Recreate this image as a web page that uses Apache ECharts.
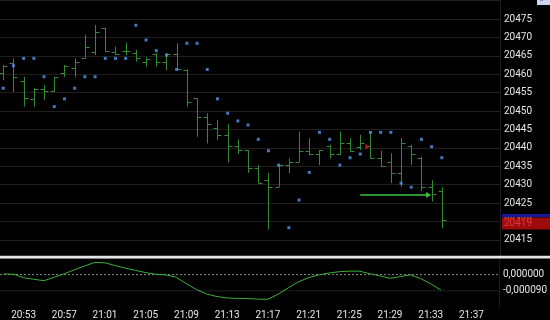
<!DOCTYPE html>
<html><head><meta charset="utf-8">
<script src="https://cdn.jsdelivr.net/npm/echarts@6/dist/echarts.min.js"></script>
<style>html,body{margin:0;padding:0;background:#000;}#c{width:550px;height:320px;}</style>
</head><body><div id="c"></div>
<script>
// ---- data ----
const times = ['20:51','20:52','20:53','20:54','20:55','20:56','20:57','20:58','20:59','21:00',
  '21:01','21:02','21:03','21:04','21:05','21:06','21:07','21:08','21:09','21:10',
  '21:11','21:12','21:13','21:14','21:15','21:16','21:17','21:18','21:19','21:20',
  '21:21','21:22','21:23','21:24','21:25','21:26','21:27','21:28','21:29','21:30',
  '21:31','21:32','21:33','21:34'];
const openP = [20460.2,20463.0,20458.2,20453.2,20456.0,20455.4,20460.2,20461.6,20464.3,20466.1,
  20472.5,20466.1,20466.3,20465.7,20463.4,20465.5,20463.4,20465.4,20461.1,20453.4,
  20448.3,20445.5,20443.5,20440.5,20439.4,20434.4,20431.2,20429.4,20435.3,20436.2,
  20439.2,20438.3,20440.5,20438.2,20441.4,20440.3,20440.5,20437.1,20436.1,20433.2,
  20440.5,20437.3,20429.3,20428.3];
const highP = [20462.5,20464.3,20459.3,20456.2,20457.1,20459.3,20462.5,20464.3,20470.7,20473.4,
  20472.6,20467.5,20468.6,20466.6,20464.6,20465.7,20465.7,20468.4,20461.3,20453.4,
  20449.4,20447.6,20446.4,20442.3,20439.4,20435.3,20433.2,20435.3,20437.1,20444.4,
  20442.6,20439.4,20440.8,20444.4,20442.6,20443.5,20443.9,20439.2,20438.5,20442.6,
  20440.8,20437.6,20431.2,20429.4];
const lowP = [20458.4,20455.2,20451.2,20451.2,20453.0,20455.2,20459.2,20459.2,20464.3,20465.2,
  20466.0,20465.2,20465.2,20463.4,20462.0,20462.0,20461.1,20461.1,20451.2,20443.0,
  20441.2,20442.1,20436.0,20438.3,20433.2,20430.4,20417.8,20429.4,20433.1,20436.2,
  20438.0,20435.3,20437.1,20438.0,20438.9,20439.4,20437.1,20434.9,20430.4,20429.4,
  20435.3,20428.3,20425.4,20418.1];
const closeP = [20462.3,20459.3,20453.4,20456.0,20455.4,20459.2,20462.3,20463.2,20467.5,20471.4,
  20466.3,20465.4,20466.3,20464.3,20464.0,20463.4,20465.5,20461.3,20452.5,20448.3,
  20446.4,20443.5,20440.5,20439.4,20434.4,20430.4,20429.4,20435.3,20436.2,20439.2,
  20438.2,20439.4,20438.2,20441.4,20439.2,20441.4,20437.1,20435.1,20433.2,20441.4,
  20438.2,20429.3,20427.4,20420.4];
const sarP = [20456.2,20462.3,20464.3,20464.3,20459.3,20451.2,20453.3,20456.2,20459.3,20459.3,
  20464.3,20464.3,20464.3,20473.3,20469.3,20466.4,20465.2,20461.3,20468.4,20468.4,
  20461.3,20453.3,20449.4,20447.3,20446.2,20442.3,20439.2,20435.3,20418.3,20425.8,
  20433.3,20444.2,20442.3,20435.3,20437.3,20438.3,20444.2,20444.2,20444.2,20430.4,
  20429.3,20442.3,20440.3,20437.3];
const oscV = [0.0000036,0.0000026,-0.0000172,-0.000026,-0.0000338,-0.0000146,0.0000047,0.000027,0.000048,0.0000676,
  0.0000655,0.00005,0.0000359,0.0000234,0.0000109,0.000002,-0.0000016,-0.0000146,-0.000051,-0.0000837,
  -0.000108,-0.000122,-0.00013,-0.000132,-0.000133,-0.000136,-0.000137,-0.000109,-0.000074,-0.00004,
  -0.0000172,-0.0000016,0.0000088,0.000016,0.0000192,0.000019,0.0000052,-0.0000068,-0.000021,-0.000011,
  -0.0000016,-0.000022,-0.000051,-0.000086];
const xTickLabels = ['20:53','20:57','21:01','21:05','21:09','21:13','21:17','21:21','21:25','21:29','21:33','21:37'];
const priceLabels = [20415,20420,20425,20430,20435,20440,20445,20450,20455,20460,20465,20470,20475];
const oscLabels = [[0,'0,000000'],[-0.00009,'-0,000090']];
const oscZeroLevel = 0, oscGridLevel = -0.00009;
const bidPrice = 20419.4, bidLabel = '20419';
const askPrice = 20421.6;
const tradeArrow = {from:'21:26', price: 20427.2};
const tradeArrowEnd = 39.7; // minutes after 20:53
const entryMark = [33.7, 20440.3];

// ---- helpers ----
const toMin = s => { const p = s.split(':'); return (+p[0])*60 + (+p[1]); };
const base = toMin(xTickLabels[0]);
const kOf = s => toMin(s) - base;
const xMin = -2.32, xMax = 46.7;
const labelMap = {};
xTickLabels.forEach(s => labelMap[kOf(s)] = s);

const ohlc = times.map((t,i) => [kOf(t), openP[i], highP[i], lowP[i], closeP[i]]);
const sar = times.map((t,i) => [kOf(t), sarP[i]]);
const osc = times.map((t,i) => [kOf(t), oscV[i]]);

const GREEN = '#348a34';
const FONT = 'Roboto, sans-serif';

const chart = echarts.init(document.getElementById('c'), null, {renderer:'canvas'});
chart.setOption({
  backgroundColor: '#000',
  animation: false,
  grid: [
    {left: 0, top: 0.6, width: 500, height: 257.6},
    {left: 0, top: 258.4, width: 500, height: 51.9}
  ],
  xAxis: [
    {type:'value', gridIndex:0, min:xMin, max:xMax, show:false},
    {type:'value', gridIndex:1, min:xMin, max:xMax,
      axisLine:{show:false}, axisTick:{show:false}, splitLine:{show:false},
      axisLabel:{color:'#e6e6e6', fontSize:10, fontFamily:FONT, margin:3,
        customValues: xTickLabels.map(kOf),
        formatter: v => labelMap[Math.round(v)] || ''}}
  ],
  yAxis: [
    {type:'value', gridIndex:0, position:'right', min:20410, max:20480, interval:5,
      axisLine:{show:true, onZero:false, lineStyle:{color:'#1c1c1c'}}, axisTick:{show:false},
      splitLine:{show:true, lineStyle:{color:'#1f1f1f', width:1}},
      axisLabel:{color:'#e6e6e6', fontSize:10, fontFamily:FONT, margin:4,
        formatter: v => priceLabels.indexOf(Math.round(v)) >= 0 ? String(Math.round(v)) : ''}},
    {type:'value', gridIndex:1, position:'right', min:-0.00018, max:0.00009, interval:0.00009,
      axisLine:{show:true, onZero:false, lineStyle:{color:'#1c1c1c'}}, axisTick:{show:false},
      splitLine:{show:false},
      axisLabel:{color:'#e6e6e6', fontSize:10, fontFamily:FONT, margin:4,
        formatter: v => { for (const [val, txt] of oscLabels) { if (Math.abs(v - val) < 1e-10) return txt; } return ''; }}}
  ],
  series: [
    {
      type:'custom', xAxisIndex:0, yAxisIndex:0, data: ohlc,
      encode:{x:0, y:[1,2,3,4]},
      renderItem: (params, api) => {
        const x = api.value(0);
        const o = api.coord([x, api.value(1)]);
        const h = api.coord([x, api.value(2)]);
        const l = api.coord([x, api.value(3)]);
        const c = api.coord([x, api.value(4)]);
        const px = Math.round(h[0]) + 0.5;
        const t = 4;
        const st = {stroke: GREEN, lineWidth: 1};
        const oy = Math.round(o[1]) + 0.5, cy = Math.round(c[1]) + 0.5;
        return {type:'group', children:[
          {type:'line', shape:{x1:px, y1:h[1], x2:px, y2:l[1]}, style:st},
          {type:'line', shape:{x1:px - t, y1:oy, x2:px, y2:oy}, style:st},
          {type:'line', shape:{x1:px, y1:cy, x2:px + t, y2:cy}, style:st}
        ]};
      },
      markLine: {
        silent:true, symbol:'none', animation:false,
        data: [
          {yAxis: askPrice, lineStyle:{color:'transparent', width:0},
            label:{show:true, position:'end', distance:2, formatter:' ', fontSize:1,
              backgroundColor:'#16169a', width:48, height:3, lineHeight:3, padding:0}},
          {yAxis: bidPrice, lineStyle:{color:'transparent', width:0},
            label:{show:true, position:'end', distance:2, formatter: bidLabel,
              color:'#e23a3a', fontSize:10, fontFamily:FONT, backgroundColor:'#9c0c0c',
              width:46, height:12, lineHeight:12, padding:[0,0,0,2]}}
        ]
      }
    },
    {
      type:'scatter', xAxisIndex:0, yAxisIndex:0, data: sar,
      symbol:'rect', symbolSize:3, itemStyle:{color:'#5596ee'}, silent:true,
      markLine: {
        silent:true, animation:false,
        lineStyle:{color:'#3cc43c', width:1.5, type:'solid'},
        label:{show:false},
        data: [[
          {coord:[kOf(tradeArrow.from), tradeArrow.price], symbol:'none'},
          {coord:[tradeArrowEnd, tradeArrow.price], symbol:'triangle', symbolSize:[6,5]}
        ]]
      }
    },
    {
      type:'scatter', xAxisIndex:0, yAxisIndex:0, data:[entryMark],
      symbol:'triangle', symbolRotate:-90, symbolSize:[6,4], itemStyle:{color:'#e01818'}, silent:true
    },
    {
      type:'line', xAxisIndex:1, yAxisIndex:1, data:[[xMin, oscGridLevel],[xMax, oscGridLevel]],
      showSymbol:false, silent:true, lineStyle:{color:'#222222', width:1}, z:1
    },
    {
      type:'line', xAxisIndex:1, yAxisIndex:1, data:[[xMin, oscZeroLevel],[xMax, oscZeroLevel]],
      showSymbol:false, silent:true, lineStyle:{color:'#8c8c8c', width:1, type:[2,2]}, z:1
    },
    {
      type:'line', xAxisIndex:1, yAxisIndex:1, data: osc, showSymbol:false, smooth:false,
      lineStyle:{color:'#3cb03c', width:1}, silent:true, z:3
    }
  ],
  graphic: [
    {type:'rect', z:100, shape:{x:0, y:255.8, width:550, height:2.6}, style:{fill:'#e4e4e4'}},
    {type:'group', z:100, children:[
      {type:'rect', shape:{x:537, y:-4, width:14, height:9}, style:{fill:'#cfd5ea'}},
      {type:'text', style:{x:539, y:-5, text:'«', fill:'#223388', fontSize:9, fontFamily:FONT}}
    ]}
  ]
});
</script>
</body></html>
